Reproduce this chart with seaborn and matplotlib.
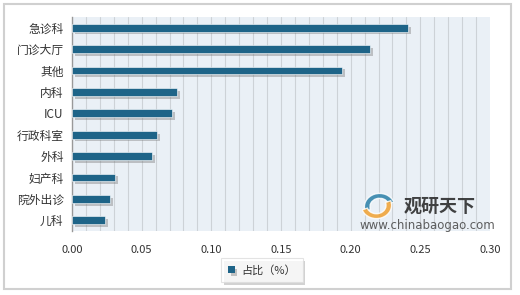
import matplotlib
matplotlib.use("Agg")
import matplotlib.pyplot as plt
import seaborn as sns
import pandas as pd
from matplotlib.patches import Rectangle, Wedge
import matplotlib.patheffects as pe

categories = ["急诊科", "门诊大厅", "其他", "内科", "ICU", "行政科室", "外科", "妇产科", "院外出诊", "儿科"]
values = [0.241, 0.214, 0.194, 0.0756, 0.0716, 0.0612, 0.0574, 0.0309, 0.0273, 0.0235]
series_name = "占比（%）"
xticks = [0.00, 0.05, 0.10, 0.15, 0.20, 0.25, 0.30]

sns.set_theme(style="white")
plt.rcParams['font.family'] = ['Noto Sans CJK SC', 'DejaVu Sans']

df = pd.DataFrame({"cat": categories, "val": values, "s": series_name})

fig = plt.figure(figsize=(5.2, 2.95), dpi=100)
ax = fig.add_axes([72/520, 1-231/295, (490-72)/520, (231-17)/295])
ax.set_facecolor("#EAF0F6")

# outer frame
fig.patches.append(Rectangle((0.008, 0.02), 0.975, 0.965, transform=fig.transFigure,
                             fill=False, edgecolor="#D0D0D0", linewidth=1.5, zorder=0))

bar_color = "#1E6488"
sns.barplot(data=df, x="val", y="cat", hue="s", palette=[bar_color], saturation=1, width=0.36,
            ax=ax, zorder=3, legend=True)
for p in ax.patches:
    p.set_path_effects([pe.SimplePatchShadow(offset=(2, -2), shadow_rgbFace="#777777", alpha=0.4), pe.Normal()])
    p.set_edgecolor("white")
    p.set_linewidth(0.4)

ax.set_xlim(0, 0.30)
ax.set_ylim(9.5, -0.5)
for g in [i * 0.01 for i in range(1, 30)]:
    ax.axvline(g, color="#CDD2D7", linewidth=0.8, zorder=1)

ax.set_xticks(xticks)
ax.set_xticklabels([f"{t:.2f}" for t in xticks], fontsize=8, color="#333333")
ax.tick_params(axis="y", labelsize=8.5, colors="#333333", length=0, pad=6)
ax.tick_params(axis="x", length=0, pad=10)
ax.set_xlabel("")
ax.set_ylabel("")
for s in ["top", "right", "bottom"]:
    ax.spines[s].set_visible(False)
ax.spines["left"].set_color("#999999")
ax.spines["left"].set_linewidth(1.0)

leg = ax.legend(loc="center", bbox_to_anchor=(262/520, 1-270/295), bbox_transform=fig.transFigure,
                fontsize=8, frameon=True, fancybox=False, handlelength=0.6, handleheight=0.6,
                borderpad=0.6, handletextpad=0.6)
leg.get_frame().set_edgecolor("#DDDDDD")
leg.get_frame().set_linewidth(0.8)
leg.get_frame().set_path_effects([pe.SimplePatchShadow(offset=(2, -2), alpha=0.25), pe.Normal()])
for h in leg.legend_handles:
    h.set_edgecolor("none")
for t in leg.get_texts():
    t.set_color("#333333")

# watermark
fig.text(404/520, 1-206/295, "观研天下", fontsize=13, fontweight="bold", color="#222222",
         ha="left", va="center", alpha=0.85)
fig.text(360/520, 1-226/295, "www.chinabaogao.com", fontsize=8.5, color="#444444",
         ha="left", va="center", family=["DejaVu Sans"], alpha=0.85)
cx, cy = 378/520, 1-206/295
asp = 520/295
logo_ax = fig.add_axes([362/520, 1-220/295, 32/520, 28/295])
logo_ax.set_xlim(-1, 1); logo_ax.set_ylim(-1, 1); logo_ax.axis("off")
logo_ax.add_patch(Wedge((0.1, -0.05), 0.95, 20, 200, width=0.35, facecolor="#2A7FA8", alpha=0.85))
logo_ax.add_patch(Wedge((-0.1, 0.05), 0.95, 200, 380, width=0.35, facecolor="#F0A030", alpha=0.85))

fig.savefig("out.png", dpi=100)
